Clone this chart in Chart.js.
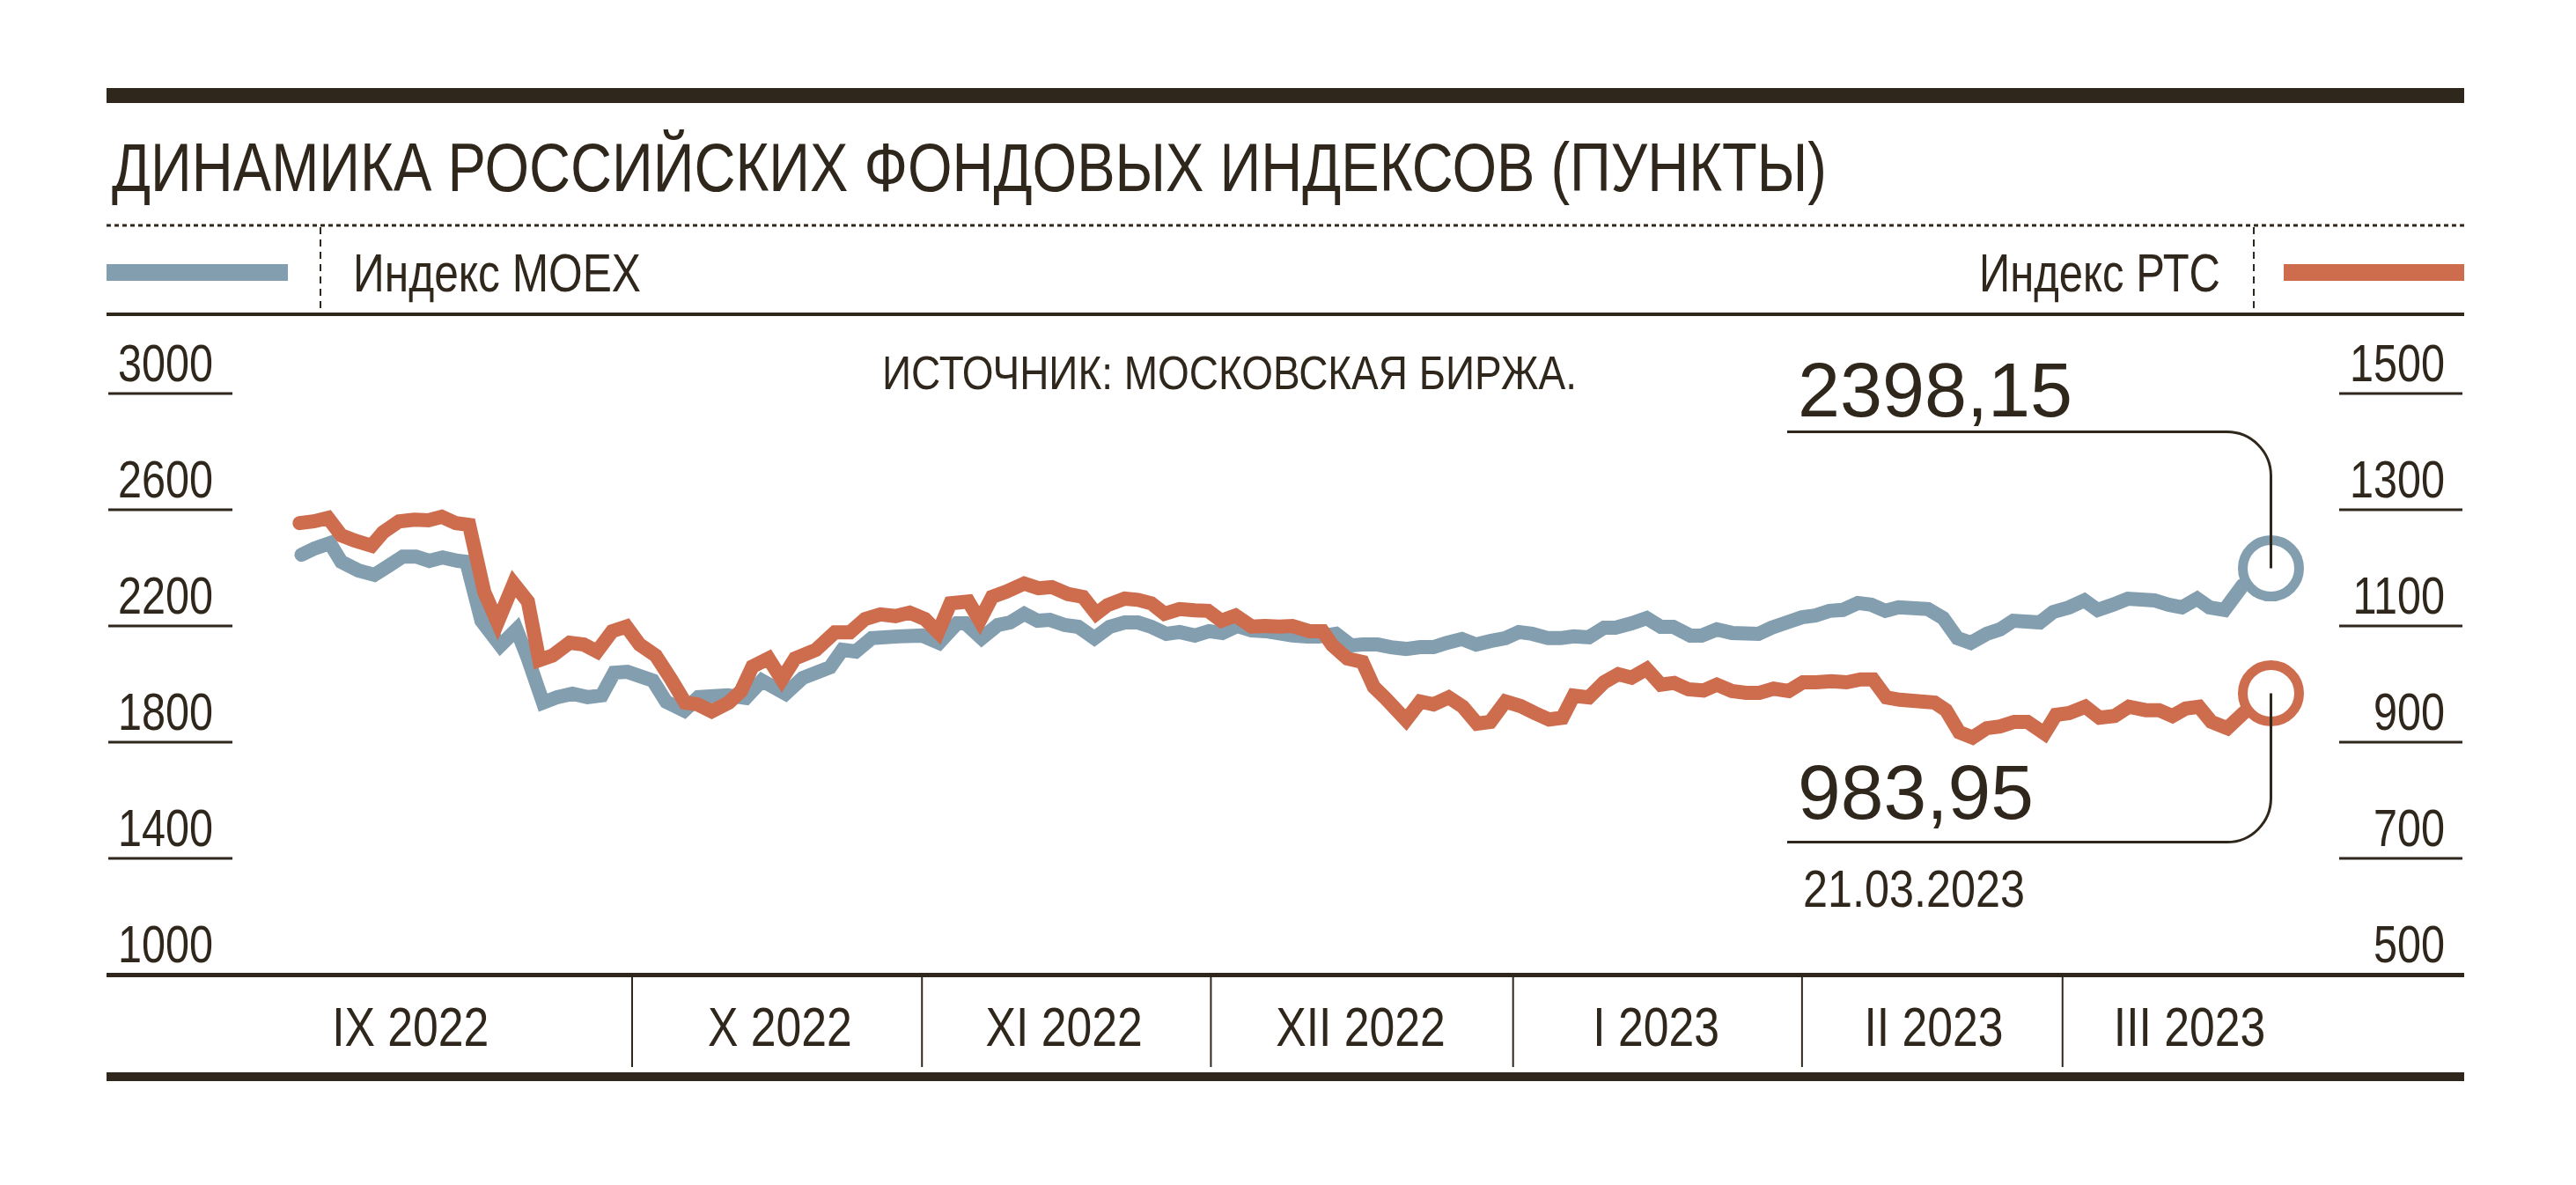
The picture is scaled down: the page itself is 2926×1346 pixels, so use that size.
<!DOCTYPE html>
<html>
<head>
<meta charset="utf-8">
<script src="https://cdn.jsdelivr.net/npm/chart.js@4.4.0/dist/chart.umd.min.js"></script>
<style>
  html, body { margin: 0; padding: 0; background: #fff; }
  canvas { display: block; }
</style>
</head>
<body>
<canvas id="myChart" width="2926" height="1346"></canvas>
<script>
// days counted from 1 Sep 2022
let moexDays = [-4.9, -3.5, -1.9, -0.7, 1.1, 2.8, 4.4, 5.8, 7.2, 8.6, 10.0, 11.6, 12.5, 14.1, 16.1, 17.8, 18.9, 20.6, 22.1, 23.7, 25.3, 26.8, 28.1, 29.5, 31.4, 32.2, 33.6, 35.5,
    37.0, 40.1, 42.0, 43.7, 46.2, 48.0, 50.9, 52.2, 53.6, 55.3, 58.1, 60.6, 62.4, 64.3, 65.2, 66.9, 68.6, 69.9, 71.4, 72.8, 74.1, 75.7, 77.1, 78.8,
    80.4, 82.0, 83.4, 84.8, 86.4, 87.8, 89.4, 90.9, 92.3, 93.9, 95.4, 96.9, 99.7, 101.3, 102.5, 104.3, 105.9, 107.1, 108.7, 110.1, 111.7, 113.2, 114.6, 116.0, 117.6, 119.1, 120.6, 122.2,
    123.6, 125.0, 126.7, 128.0, 129.4, 131.0, 132.6, 133.8, 135.5, 137.1, 138.6, 139.9, 141.7, 142.9, 144.5, 146.1, 148.9, 150.3, 151.9, 153.5, 154.9, 156.4, 157.8, 159.4, 160.8, 162.3, 163.7,
    166.8, 168.4, 169.9, 171.3, 173.0, 174.4, 175.8, 178.6, 180.0, 181.7, 183.3, 184.7, 186.3, 187.9, 190.7, 192.2, 193.6, 195.2, 196.5, 198.1, 200.0, 203.0];
let moexValues = [2445, 2467, 2485, 2421, 2391, 2376, 2409, 2439, 2439, 2424, 2436, 2424, 2421, 2218, 2133, 2188, 2097, 1936, 1955, 1967, 1955, 1961, 2039, 2042, 2021, 2012, 1939, 1909,
    1955, 1961, 1952, 2012, 1967, 2021, 2058, 2118, 2112, 2158, 2164, 2167, 2142, 2209, 2209, 2158, 2203, 2212, 2242, 2218, 2221, 2203, 2197, 2158,
    2197, 2212, 2212, 2197, 2173, 2179, 2167, 2182, 2176, 2200, 2185, 2182, 2167, 2164, 2164, 2173, 2133, 2136, 2136, 2127, 2121, 2127, 2127, 2142, 2155, 2136, 2148, 2158,
    2179, 2173, 2158, 2158, 2164, 2161, 2194, 2194, 2209, 2227, 2197, 2197, 2167, 2167, 2188, 2176, 2173, 2194, 2212, 2230, 2236, 2252, 2255, 2279, 2273, 2252, 2264,
    2258, 2227, 2158, 2142, 2173, 2188, 2218, 2212, 2248, 2264, 2288, 2255, 2273, 2294, 2288, 2273, 2264, 2294, 2264, 2255, 2339, 2398.15];

let rtsDays = [-5.1, -3.6, -2.1, -0.7, 0.7, 2.5, 3.7, 5.4, 7.0, 8.5, 9.9, 11.4, 12.8, 14.4, 15.8, 17.5, 19.0, 20.2, 21.6, 23.4, 24.9, 26.3, 27.9, 29.4, 30.8, 32.5, 34.2, 35.6,
    36.9, 38.4, 40.2, 41.5, 42.7, 44.4, 45.8, 47.2, 49.4, 51.4, 53.0, 54.6, 56.2, 57.8, 59.3, 60.9, 62.3, 63.6, 65.5, 66.7, 68.0, 69.5, 71.4, 72.9, 74.3, 76.0, 77.6, 79.0,
    80.2, 82.0, 83.4, 84.8, 86.2, 87.8, 89.4, 90.8, 92.2, 93.7, 95.4, 96.8, 98.3, 99.7, 101.5, 102.9, 103.9, 105.5, 107.1, 108.3, 109.5, 111.7, 113.2, 114.6, 116.2, 117.7, 119.2, 120.6, 122.2,
    123.8, 125.3, 126.8, 128.2, 129.4, 131.0, 132.6, 134.1, 135.5, 137.1, 138.6, 140.0, 141.5, 143.1, 144.5, 146.1, 147.6, 149.0, 150.5, 152.1, 153.6, 155.0, 156.6, 158.2, 159.7, 161.0, 162.4, 163.8,
    167.5, 168.7, 170.1, 171.5, 173.0, 174.4, 175.9, 177.3, 179.1, 180.3, 181.7, 183.4, 184.9, 186.5, 188.0, 189.8, 191.2, 192.6, 194.0, 195.4, 196.7, 198.4, 200.1, 203.0];
let rtsValues = [1277, 1280, 1286, 1256, 1247, 1238, 1261, 1280, 1283, 1282, 1288, 1277, 1274, 1158, 1106, 1173, 1142, 1041, 1049, 1071, 1068, 1056, 1091, 1099, 1068, 1049, 1006, 968,
    965, 953, 968, 988, 1030, 1044, 1008, 1044, 1059, 1089, 1089, 1112, 1120, 1117, 1123, 1112, 1089, 1139, 1142, 1109, 1150, 1159, 1173, 1165, 1167, 1155, 1150, 1121,
    1136, 1147, 1145, 1139, 1121, 1129, 1127, 1126, 1109, 1118, 1099, 1100, 1099, 1100, 1091, 1091, 1067, 1044, 1038, 995, 976, 938, 970, 965, 977, 961, 932, 935, 970,
    962, 950, 939, 942, 980, 977, 1003, 1017, 1011, 1026, 999, 1002, 991, 989, 999, 988, 985, 985, 992, 988, 1003, 1003, 1005, 1003, 1008, 1008, 977, 973,
    968, 955, 917, 908, 924, 927, 935, 935, 915, 947, 950, 961, 942, 945, 961, 955, 955, 945, 958, 961, 935, 924, 950, 983.95];

let leftTicks = [3000, 2600, 2200, 1800, 1400, 1000];
let rightTicks = [1500, 1300, 1100, 900, 700, 500];
let monthLabels = ["IX 2022", "X 2022", "XI 2022", "XII 2022", "I 2023", "II 2023", "III 2023"];
let monthLabelDays = [6.6, 45.6, 75.6, 106.9, 138.1, 167.4, 194.4];
let monthEdgeDays = [30, 60.6, 91.1, 123.0, 153.5, 181];
let lastDate = "21.03.2023";

const DARK = "#30271c";
const BLUE = "#829eaf";
const ORANGE = "#ce6c4e";
const FONT = '"Liberation Sans", Arial, sans-serif';

function txt(ctx, s, x, y, size, opt) {
    ctx.save();
    ctx.font = size + "px " + FONT;
    ctx.fillStyle = DARK;
    ctx.textBaseline = "alphabetic";
    ctx.textAlign = "left";
    let raw = ctx.measureText(s).width;
    let sx = opt.width ? opt.width / raw : (opt.sx || 1);
    let w = raw * sx;
    let x0 = opt.align == "right" ? x - w : opt.align == "center" ? x - w / 2 : x;
    ctx.translate(x0, y);
    ctx.scale(sx, 1);
    ctx.fillText(s, 0, 0);
    ctx.restore();
}

function hline(ctx, x1, x2, y, w, dash) {
    ctx.save();
    ctx.strokeStyle = DARK;
    ctx.lineWidth = w;
    if (dash) ctx.setLineDash(dash);
    ctx.beginPath();
    ctx.moveTo(x1, y);
    ctx.lineTo(x2, y);
    ctx.stroke();
    ctx.restore();
}

function vline(ctx, x, y1, y2, w, dash) {
    ctx.save();
    ctx.strokeStyle = DARK;
    ctx.lineWidth = w;
    if (dash) ctx.setLineDash(dash);
    ctx.beginPath();
    ctx.moveTo(x, y1);
    ctx.lineTo(x, y2);
    ctx.stroke();
    ctx.restore();
}

const frame = {
    id: "frame",
    beforeDraw(chart) {
        const ctx = chart.ctx;
        ctx.save();
        ctx.fillStyle = "#fff";
        ctx.fillRect(0, 0, chart.width, chart.height);
        ctx.restore();
    },
    beforeDatasetsDraw(chart) {
        const ctx = chart.ctx;
        const a = chart.chartArea;
        const xs = chart.scales.x, y = chart.scales.y, y2 = chart.scales.y2;

        // header
        ctx.fillStyle = DARK;
        ctx.fillRect(a.left, 100, a.right - a.left, 17);
        txt(ctx, "ДИНАМИКА РОССИЙСКИХ ФОНДОВЫХ ИНДЕКСОВ (ПУНКТЫ)", 127, 217, 77, { width: 1948 });
        hline(ctx, a.left, a.right, 256, 3, [5, 4]);
        vline(ctx, 364, 258, 354, 2, [8, 6]);
        vline(ctx, 2560, 258, 354, 2, [8, 6]);
        ctx.fillStyle = BLUE;
        ctx.fillRect(a.left, 300, 206, 19);
        ctx.fillStyle = ORANGE;
        ctx.fillRect(a.right - 205, 300, 205, 19);
        txt(ctx, "Индекс MOEX", 401, 331, 61, { width: 327 });
        txt(ctx, "Индекс РТС", 2522, 331, 61, { width: 274, align: "right" });
        hline(ctx, a.left, a.right, 357, 4);

        txt(ctx, "ИСТОЧНИК: МОСКОВСКАЯ БИРЖА.", 1002, 442, 54, { width: 789 });

        // ticks
        leftTicks.forEach(v => {
            const py = y.getPixelForValue(v);
            txt(ctx, String(v), 134, py - 14, 60, { sx: 0.81 });
            if (v != y.min) hline(ctx, 123, 264, py, 3);
        });
        rightTicks.forEach(v => {
            const py = y2.getPixelForValue(v);
            txt(ctx, String(v), 2777, py - 14, 60, { sx: 0.81, align: "right" });
            if (v != y2.min) hline(ctx, 2657, 2797, py, 3);
        });

        // x axis band
        hline(ctx, a.left, a.right, a.bottom + 0.5, 5);
        monthEdgeDays.forEach(d => {
            vline(ctx, xs.getPixelForValue(d), a.bottom + 3, 1212, 2);
        });
        monthLabels.forEach((m, i) => {
            txt(ctx, m, xs.getPixelForValue(monthLabelDays[i]), 1188, 63, { sx: 0.82, align: "center" });
        });
        ctx.fillStyle = DARK;
        ctx.fillRect(a.left, 1218, a.right - a.left, 10);
    },
    afterDatasetsDraw(chart) {
        const ctx = chart.ctx;
        const r = 50;
        const mLast = chart.getDatasetMeta(1).data[moexValues.length - 1];
        const rLast = chart.getDatasetMeta(0).data[rtsValues.length - 1];

        ctx.save();
        ctx.strokeStyle = DARK;
        ctx.lineWidth = 3;
        // MOEX callout
        let cx = mLast.x, cy = mLast.y, hy = cy - 155;
        ctx.beginPath();
        ctx.moveTo(2030, hy);
        ctx.lineTo(cx - r, hy);
        ctx.arcTo(cx, hy, cx, hy + r, r);
        ctx.lineTo(cx, cy);
        ctx.stroke();
        txt(ctx, moexValues[moexValues.length - 1].toFixed(2).replace(".", ","), 2042, hy - 18, 87, { width: 312 });

        // RTS callout
        cx = rLast.x; cy = rLast.y; hy = cy + 169;
        ctx.beginPath();
        ctx.moveTo(cx, cy);
        ctx.lineTo(cx, hy - r);
        ctx.arcTo(cx, hy, cx - r, hy, r);
        ctx.lineTo(2030, hy);
        ctx.stroke();
        ctx.restore();
        txt(ctx, rtsValues[rtsValues.length - 1].toFixed(2).replace(".", ","), 2042, hy - 27, 87, { width: 268 });
        txt(ctx, lastDate, 2048, hy + 73, 60, { width: 252 });
    }
};

function lastOnly(n, r) {
    let a = [];
    for (let i = 0; i < n; i++) a.push(i == n - 1 ? r : 0);
    return a;
}

window.onload = function () {
    const ctx = document.getElementById("myChart").getContext("2d");
    new Chart(ctx, {
        type: "line",
        data: {
            datasets: [
                {
                    label: "Индекс РТС",
                    data: rtsDays.map((d, i) => ({ x: d, y: rtsValues[i] })),
                    yAxisID: "y2",
                    borderColor: ORANGE,
                    borderWidth: 16,
                    borderJoinStyle: "miter",
                    borderCapStyle: "round",
                    tension: 0,
                    pointRadius: lastOnly(rtsValues.length, 32),
                    pointBorderWidth: 11,
                    pointBorderColor: ORANGE,
                    pointBackgroundColor: "#fff",
                    order: 1
                },
                {
                    label: "Индекс MOEX",
                    data: moexDays.map((d, i) => ({ x: d, y: moexValues[i] })),
                    yAxisID: "y",
                    borderColor: BLUE,
                    borderWidth: 16,
                    borderJoinStyle: "miter",
                    borderCapStyle: "round",
                    tension: 0,
                    pointRadius: lastOnly(moexValues.length, 32),
                    pointBorderWidth: 11,
                    pointBorderColor: BLUE,
                    pointBackgroundColor: "#fff",
                    order: 2
                }
            ]
        },
        options: {
            responsive: false,
            devicePixelRatio: 1,
            animation: false,
            events: [],
            layout: { padding: { left: 121, right: 127, top: 447, bottom: 239 } },
            plugins: { legend: { display: false }, tooltip: { enabled: false }, title: { display: false } },
            scales: {
                x: { type: "linear", min: -25.48, max: 223.4, display: false },
                y: { type: "linear", min: 1000, max: 3000, display: false },
                y2: { type: "linear", min: 500, max: 1500, display: false, position: "right" }
            }
        },
        plugins: [frame]
    });
};
</script>
</body>
</html>
